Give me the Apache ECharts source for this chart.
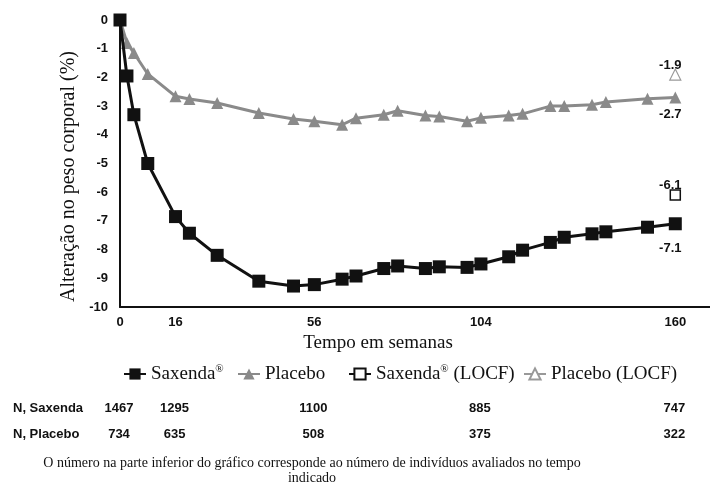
<!DOCTYPE html>
<html>
<head>
<meta charset="utf-8">
<script src="https://cdn.jsdelivr.net/npm/echarts@6/dist/echarts.min.js"></script>
<style>
html,body{margin:0;padding:0;background:#fff;}
#chart{width:710px;height:484px;}
</style>
</head>
<body>
<div id="chart"></div>
<script>
// ---- data ----
const weeks = [0,2,4,8,16,20,28,40,50,56,64,68,76,80,88,92,100,104,112,116,124,128,136,140,152,160];
const saxenda = [0,-1.95,-3.3,-5.0,-6.85,-7.43,-8.2,-9.1,-9.27,-9.22,-9.03,-8.92,-8.66,-8.57,-8.66,-8.6,-8.62,-8.5,-8.25,-8.02,-7.75,-7.57,-7.45,-7.38,-7.22,-7.1];
const placebo = [0,-0.8,-1.15,-1.88,-2.66,-2.75,-2.89,-3.24,-3.45,-3.53,-3.65,-3.42,-3.3,-3.16,-3.33,-3.36,-3.53,-3.41,-3.33,-3.27,-3.0,-3.0,-2.95,-2.86,-2.74,-2.7];
const locfWeek = 160;
const saxendaLOCF = -6.1;
const placeboLOCF = -1.9;
const xTickValues = [0,16,56,104,160];
const seriesNames = ['Saxenda®','Placebo','Saxenda® (LOCF)','Placebo (LOCF)'];
const nWeeks = [0,16,56,104,160];
const nSaxenda = [1467,1295,1100,885,747];
const nPlacebo = [734,635,508,375,322];
const nRowLabels = ['N, Saxenda','N, Placebo'];
const footnote = ['O número na parte inferior do gráfico corresponde ao número de indivíduos avaliados no tempo','indicado'];

// ---- styles ----
const SERIF = '"Liberation Serif","Times New Roman",serif';
const SANS = '"Liberation Sans",Arial,sans-serif';
const GRAY = '#8a8a8a';

const chart = echarts.init(document.getElementById('chart'), null, {renderer:'canvas'});

function pairs(xs, ys){ return xs.map((x,i)=>[x, ys[i]]); }
function lastLabel(data, pos, dist, offset){
  const d = data.map(p=>({value:p}));
  d[d.length-1].label = {show:true, position:pos, distance:dist, offset:offset,
    formatter: p => p.value[1].toFixed(1),
    fontFamily:SANS, fontWeight:'bold', fontSize:13, color:'#111'};
  return d;
}
function legendFmt(name){
  return name.replace('®','{sup|®}');
}
const legendText = {fontFamily:SERIF, fontSize:19, color:'#111', lineHeight:20,
  rich:{sup:{fontFamily:SERIF, fontSize:11, verticalAlign:'top', lineHeight:11, color:'#111'}}};
function mkLegend(name, left){
  return {data:[name], left:left, top:359, itemWidth:22, itemHeight:14, itemGap:0,
    formatter: legendFmt, textStyle: legendText, selectedMode:false};
}

const option = {
  animation:false,
  backgroundColor:'#fff',
  grid:{left:120, right:0, top:20, bottom:177, containLabel:false},
  xAxis:{
    type:'value', min:0, max:170,
    name:'Tempo em semanas', nameLocation:'middle', nameGap:22,
    nameTextStyle:{fontFamily:SERIF, fontSize:19, color:'#111', padding:[0,74,0,0]},
    axisLine:{show:true, onZero:false, lineStyle:{color:'#111', width:2}},
    axisTick:{show:false},
    splitLine:{show:false},
    axisLabel:{customValues:xTickValues, margin:9, fontFamily:SANS, fontWeight:'bold', fontSize:13, color:'#111'}
  },
  yAxis:{
    type:'value', min:-10, max:0, interval:1,
    name:'Alteração no peso corporal (%)', nameLocation:'middle', nameGap:36,
    nameTextStyle:{fontFamily:SERIF, fontSize:20, color:'#111', padding:[0,26,0,0]},
    axisLine:{show:true, onZero:false, lineStyle:{color:'#111', width:2}},
    axisTick:{show:false},
    splitLine:{show:false},
    axisLabel:{margin:12, fontFamily:SANS, fontWeight:'bold', fontSize:13, color:'#111'}
  },
  legend:[
    mkLegend(seriesNames[0], 118),
    mkLegend(seriesNames[1], 232),
    mkLegend(seriesNames[2], 343),
    mkLegend(seriesNames[3], 518)
  ],
  series:[
    {name:seriesNames[1], type:'line', clip:false, z:2,
     data:lastLabel(pairs(weeks, placebo),'bottom',4,[-5,0]),
     symbol:'triangle', symbolSize:12,
     lineStyle:{color:GRAY, width:3}, itemStyle:{color:GRAY, borderColor:GRAY, borderWidth:0}},
    {name:seriesNames[0], type:'line', clip:false, z:3,
     data:lastLabel(pairs(weeks, saxenda),'bottom',12,[-5,0]),
     symbol:'rect', symbolSize:13,
     lineStyle:{color:'#111', width:3}, itemStyle:{color:'#111', borderColor:'#111', borderWidth:0}},
    {name:seriesNames[2], type:'line', clip:false, z:3,
     data:lastLabel([[locfWeek, saxendaLOCF]],'top',0,[-5,3]),
     symbol:'rect', symbolSize:10,
     lineStyle:{color:'#111', width:2}, itemStyle:{color:'#fff', borderColor:'#111', borderWidth:1.5}},
    {name:seriesNames[3], type:'line', clip:false, z:3,
     data:lastLabel([[locfWeek, placeboLOCF]],'top',0,[-5,3]),
     symbol:'triangle', symbolSize:11,
     lineStyle:{color:'#999', width:2}, itemStyle:{color:'#fff', borderColor:'#999', borderWidth:1.2}}
  ]
};
chart.setOption(option);

// table of N and footnote, positioned through the x scale
const nxs = nWeeks.map(w => chart.convertToPixel({xAxisIndex:0}, w));
const rowsY = [408, 434];
const rows = [nSaxenda, nPlacebo];
const gfx = [];
nRowLabels.forEach((lab, r) => {
  gfx.push({type:'text', x:13, y:rowsY[r], silent:true,
    style:{text:lab, font:'bold 13px ' + SANS, fill:'#111',
      align:'left', verticalAlign:'middle', textAlign:'left', textVerticalAlign:'middle'}});
  rows[r].forEach((v, i) => {
    gfx.push({type:'text', x:nxs[i] - 1, y:rowsY[r], silent:true,
      style:{text:String(v), font:'bold 13px ' + SANS, fill:'#111',
        align:'center', verticalAlign:'middle', textAlign:'center', textVerticalAlign:'middle'}});
  });
});
footnote.forEach((t, i) => {
  gfx.push({type:'text', x:312, y:463 + i*15, silent:true,
    style:{text:t, font:'14px ' + SERIF, fill:'#111',
      align:'center', verticalAlign:'middle', textAlign:'center', textVerticalAlign:'middle'}});
});
chart.setOption({graphic:gfx});
</script>
</body>
</html>
